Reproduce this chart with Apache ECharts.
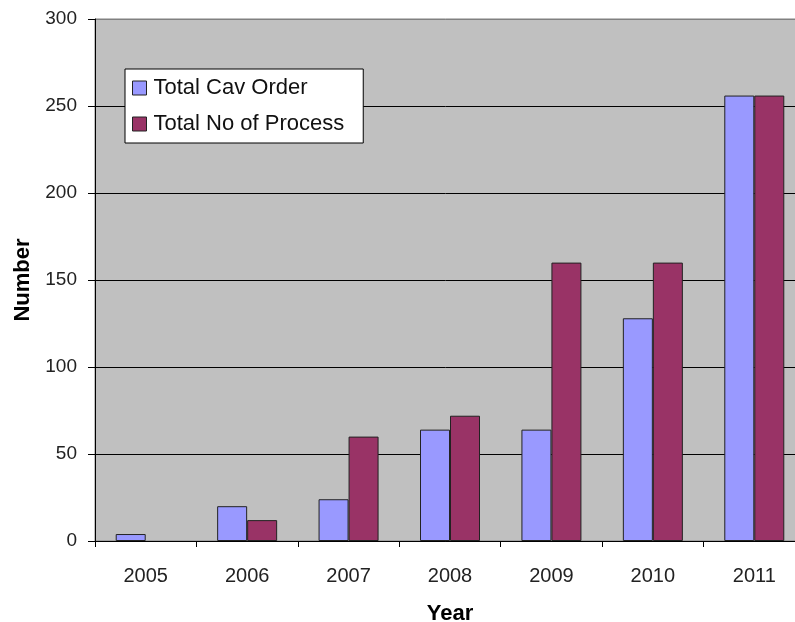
<!DOCTYPE html>
<html>
<head>
<meta charset="utf-8">
<script src="https://cdn.jsdelivr.net/npm/echarts@6/dist/echarts.min.js"></script>
<style>html,body{margin:0;padding:0;background:#fff;}#c{width:795px;height:622px;}</style>
</head>
<body>
<div id="c"></div>
<script>
var years = ['2005','2006','2007','2008','2009','2010','2011'];
var cavOrder = [4, 20, 24, 64, 64, 128, 256];
var noProcess = [null, 12, 60, 72, 160, 160, 256];
var yTicks = {min: 0, max: 300, interval: 50};

var chart = echarts.init(document.getElementById('c'), null, {renderer: 'canvas'});
var font = '"Liberation Sans", Arial, sans-serif';
chart.setOption({
  animation: false,
  backgroundColor: '#fff',
  grid: {left: 95, top: 19, width: 710, bottom: 81, outerBoundsMode: 'none', containLabel: false,
         show: true, backgroundColor: '#c0c0c0', borderColor: '#808080', borderWidth: 1},
  legend: {
    orient: 'vertical', left: 125, top: 69,
    backgroundColor: '#fff', borderColor: '#000', borderWidth: 1,
    padding: [7, 19, 7, 7], itemGap: 12, itemWidth: 14, itemHeight: 14,
    icon: 'rect',
    itemStyle: {borderColor: '#222', borderWidth: 1},
    textStyle: {fontFamily: font, fontSize: 22, color: '#111', lineHeight: 24, padding: [0, 0, 0, 2]},
    data: ['Total Cav Order', 'Total No of Process']
  },
  xAxis: {
    type: 'category', data: years,
    name: 'Year', nameLocation: 'middle', nameGap: 62,
    nameTextStyle: {fontFamily: font, fontSize: 22, fontWeight: 'bold', color: '#000'},
    axisLine: {lineStyle: {color: '#000', width: 1}},
    axisTick: {show: true, length: 6, lineStyle: {color: '#000'}},
    axisLabel: {fontFamily: font, fontSize: 20, color: '#222', margin: 25},
    splitLine: {show: false}
  },
  yAxis: {
    type: 'value', min: yTicks.min, max: yTicks.max, interval: yTicks.interval,
    name: 'Number', nameLocation: 'middle', nameGap: 58, nameRotate: 90,
    nameTextStyle: {fontFamily: font, fontSize: 22, fontWeight: 'bold', color: '#000'},
    axisLine: {show: true, lineStyle: {color: '#000', width: 1}},
    axisTick: {show: true, length: 7, lineStyle: {color: '#000'}},
    axisLabel: {fontFamily: font, fontSize: 19, color: '#222', margin: 18},
    splitLine: {show: true, lineStyle: {color: ['#000','#000','#000','#000','#000','#000','#808080'], width: 1}}
  },
  series: [
    {name: 'Total Cav Order', type: 'bar', data: cavOrder, barWidth: 30, barGap: '0%',
     itemStyle: {color: '#9999ff', borderColor: '#222', borderWidth: 1}},
    {name: 'Total No of Process', type: 'bar', data: noProcess, barWidth: 30, barGap: '0%',
     itemStyle: {color: '#993366', borderColor: '#222', borderWidth: 1}}
  ]
});
</script>
</body>
</html>
